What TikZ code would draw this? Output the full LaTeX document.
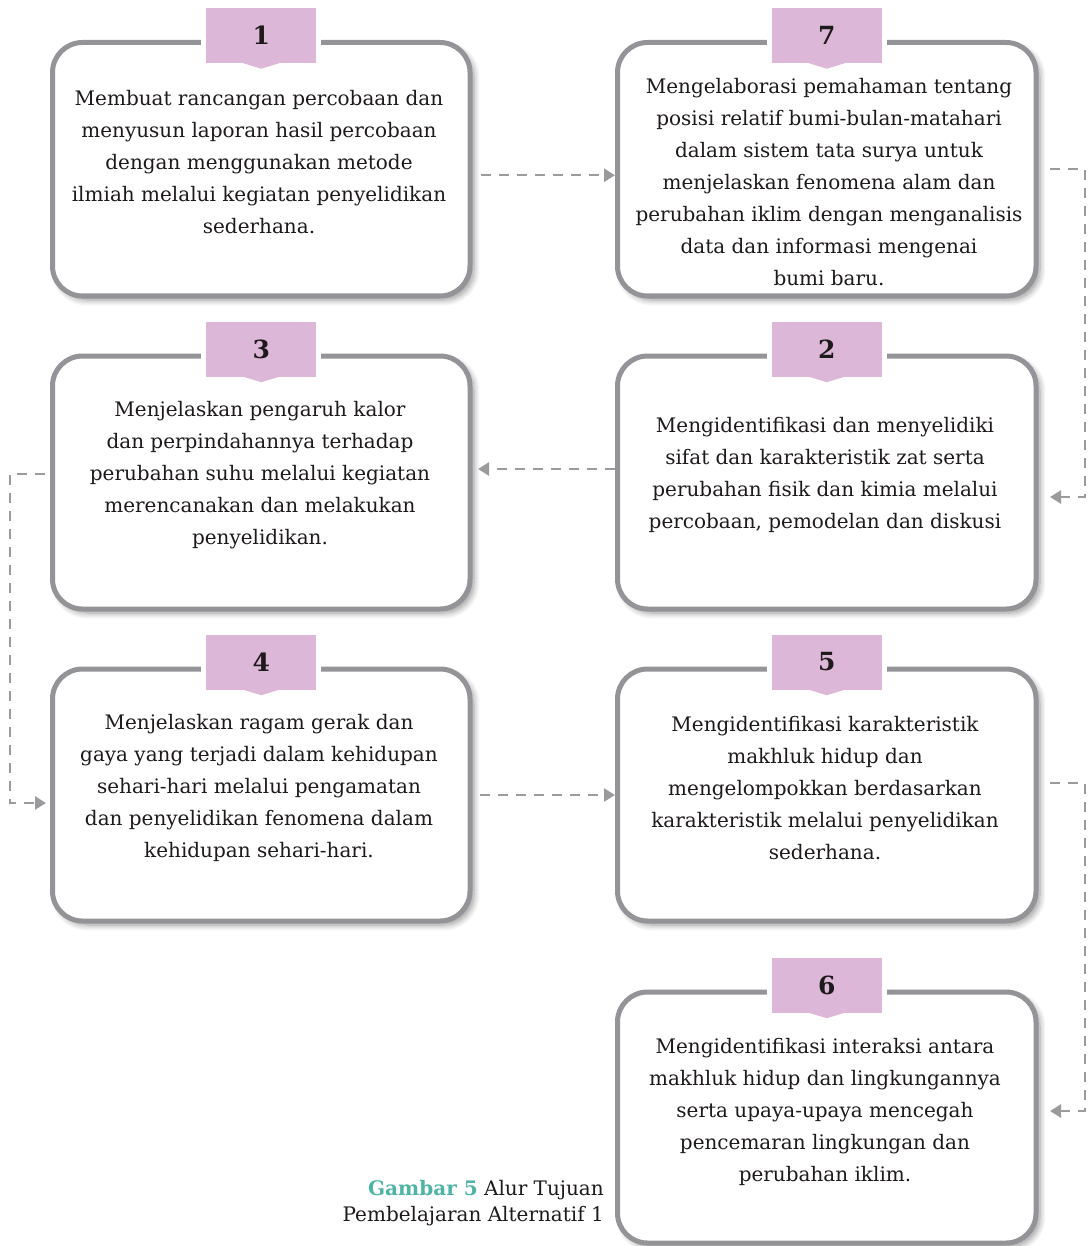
\documentclass[tikz,border=0pt]{standalone}
\usepackage{fontspec}
\setmainfont{DejaVu Serif}
\usetikzlibrary{arrows.meta,shadows.blur,calc}
\definecolor{boxgray}{HTML}{949498}
\definecolor{tabpink}{HTML}{DDB7D7}
\definecolor{conngray}{HTML}{9B9B9E}
\definecolor{capteal}{HTML}{4FB3A6}
\definecolor{inktext}{HTML}{1E1A1B}
\tikzset{
  flowbox/.style={draw=boxgray, line width=5pt, rounded corners=30pt, fill=white,
    blur shadow={shadow xshift=4pt, shadow yshift=-4pt, shadow blur radius=6pt,
      shadow blur steps=8, shadow opacity=40}},
  tabbox/.style={fill=tabpink, minimum width=110pt, minimum height=55pt, inner sep=0pt,
    font=\bfseries\fontsize{25}{25}\selectfont, text=inktext},
  bodytext/.style={align=center, inner sep=0pt, text=inktext,
    font=\fontsize{20}{32}\selectfont},
  conn/.style={draw=conngray, line width=2.5pt, dash pattern=on 10pt off 8pt,
    -{Triangle[length=11pt,width=13pt]}},
}
\newcommand\tabfor[3]{%
  \fill[white] ([xshift=-60pt,yshift=3.5pt]#2.north) rectangle ([xshift=60pt,yshift=-8.5pt]#2.north);
  \node[tabbox] (#1) at ([yshift=4.5pt]#2.north) {#3};
  \fill[tabpink] ([xshift=-18pt]#1.south) -- ([yshift=-5.5pt]#1.south) -- ([xshift=18pt]#1.south) -- cycle;
}
\begin{document}
\begin{tikzpicture}[x=1pt,y=-1pt]
\useasboundingbox (0,0) rectangle (1089,1246);
% boxes
\node[flowbox, minimum width=417.5pt, minimum height=253.5pt] (b1) at (261.25,169.25) {};
\node[flowbox, minimum width=418.5pt, minimum height=253.5pt] (b7) at (826.75,169.25) {};
\node[flowbox, minimum width=417.5pt, minimum height=253pt] (b3) at (261.25,482.5) {};
\node[flowbox, minimum width=418.5pt, minimum height=253pt] (b2) at (826.75,482.5) {};
\node[flowbox, minimum width=417.5pt, minimum height=252pt] (b4) at (261.25,795) {};
\node[flowbox, minimum width=418.5pt, minimum height=252pt] (b5) at (826.75,795) {};
\node[flowbox, minimum width=418.5pt, minimum height=251pt] (b6) at (826.75,1117.5) {};
% tabs
\tabfor{n1}{b1}{1}
\tabfor{n7}{b7}{7}
\tabfor{n3}{b3}{3}
\tabfor{n2}{b2}{2}
\tabfor{n4}{b4}{4}
\tabfor{n5}{b5}{5}
\tabfor{n6}{b6}{6}
% texts
\node[bodytext] (t1) at (259,162) {Membuat rancangan percobaan dan\\menyusun laporan hasil percobaan\\dengan menggunakan metode\\ilmiah melalui kegiatan penyelidikan\\sederhana.};
\node[bodytext] (t7) at (829,182) {Mengelaborasi pemahaman tentang\\posisi relatif bumi-bulan-matahari\\dalam sistem tata surya untuk\\menjelaskan fenomena alam dan\\perubahan iklim dengan menganalisis\\data dan informasi mengenai\\bumi baru.};
\node[bodytext] (t3) at (260,475) {Menjelaskan pengaruh kalor\\dan perpindahannya terhadap\\perubahan suhu melalui kegiatan\\merencanakan dan melakukan\\penyelidikan.};
\node[bodytext] (t2) at (825,475) {Mengidentifikasi dan menyelidiki\\sifat dan karakteristik zat serta\\perubahan fisik dan kimia melalui\\percobaan, pemodelan dan diskusi};
\node[bodytext] (t4) at (259,788) {Menjelaskan ragam gerak dan\\gaya yang terjadi dalam kehidupan\\sehari-hari melalui pengamatan\\dan penyelidikan fenomena dalam\\kehidupan sehari-hari.};
\node[bodytext] (t5) at (825,788) {Mengidentifikasi karakteristik\\makhluk hidup dan\\mengelompokkan berdasarkan\\karakteristik melalui penyelidikan\\sederhana.};
\node[bodytext] (t6) at (825,1112) {Mengidentifikasi interaksi antara\\makhluk hidup dan lingkungannya\\serta upaya-upaya mencegah\\pencemaran lingkungan dan\\perubahan iklim.};
% caption
\node[anchor=east, align=right, inner sep=0pt, text=inktext, font=\fontsize{20}{26}\selectfont] (cap) at (604,1203)
  {\textcolor{capteal}{\bfseries Gambar 5} Alur Tujuan\\Pembelajaran Alternatif 1};
% connectors
\coordinate (r1) at (1085,169.25);
\coordinate (l1) at (10,474);
\coordinate (r2) at (1085,783);
\draw[conn] ([xshift=8pt,yshift=-6pt]b1.east) -- ([yshift=-6pt]b7.west);
\draw[conn] ([xshift=11.5pt]b7.east) -- (r1) |- ([xshift=11.5pt,yshift=-14.5pt]b2.east);
\draw[conn] ([yshift=13.5pt]b2.west) -- ([xshift=5.5pt,yshift=13.5pt]b3.east);
\draw[conn] ([xshift=-5pt,yshift=8.5pt]b3.west) -- (l1) |- ([xshift=-4pt,yshift=-8pt]b4.west);
\draw[conn] ([xshift=7.5pt]b4.east) -- (b5.west);
\draw[conn] ([xshift=11.5pt,yshift=12pt]b5.east) -- (r2) |- ([xshift=11.5pt,yshift=6.5pt]b6.east);
\end{tikzpicture}
\end{document}
